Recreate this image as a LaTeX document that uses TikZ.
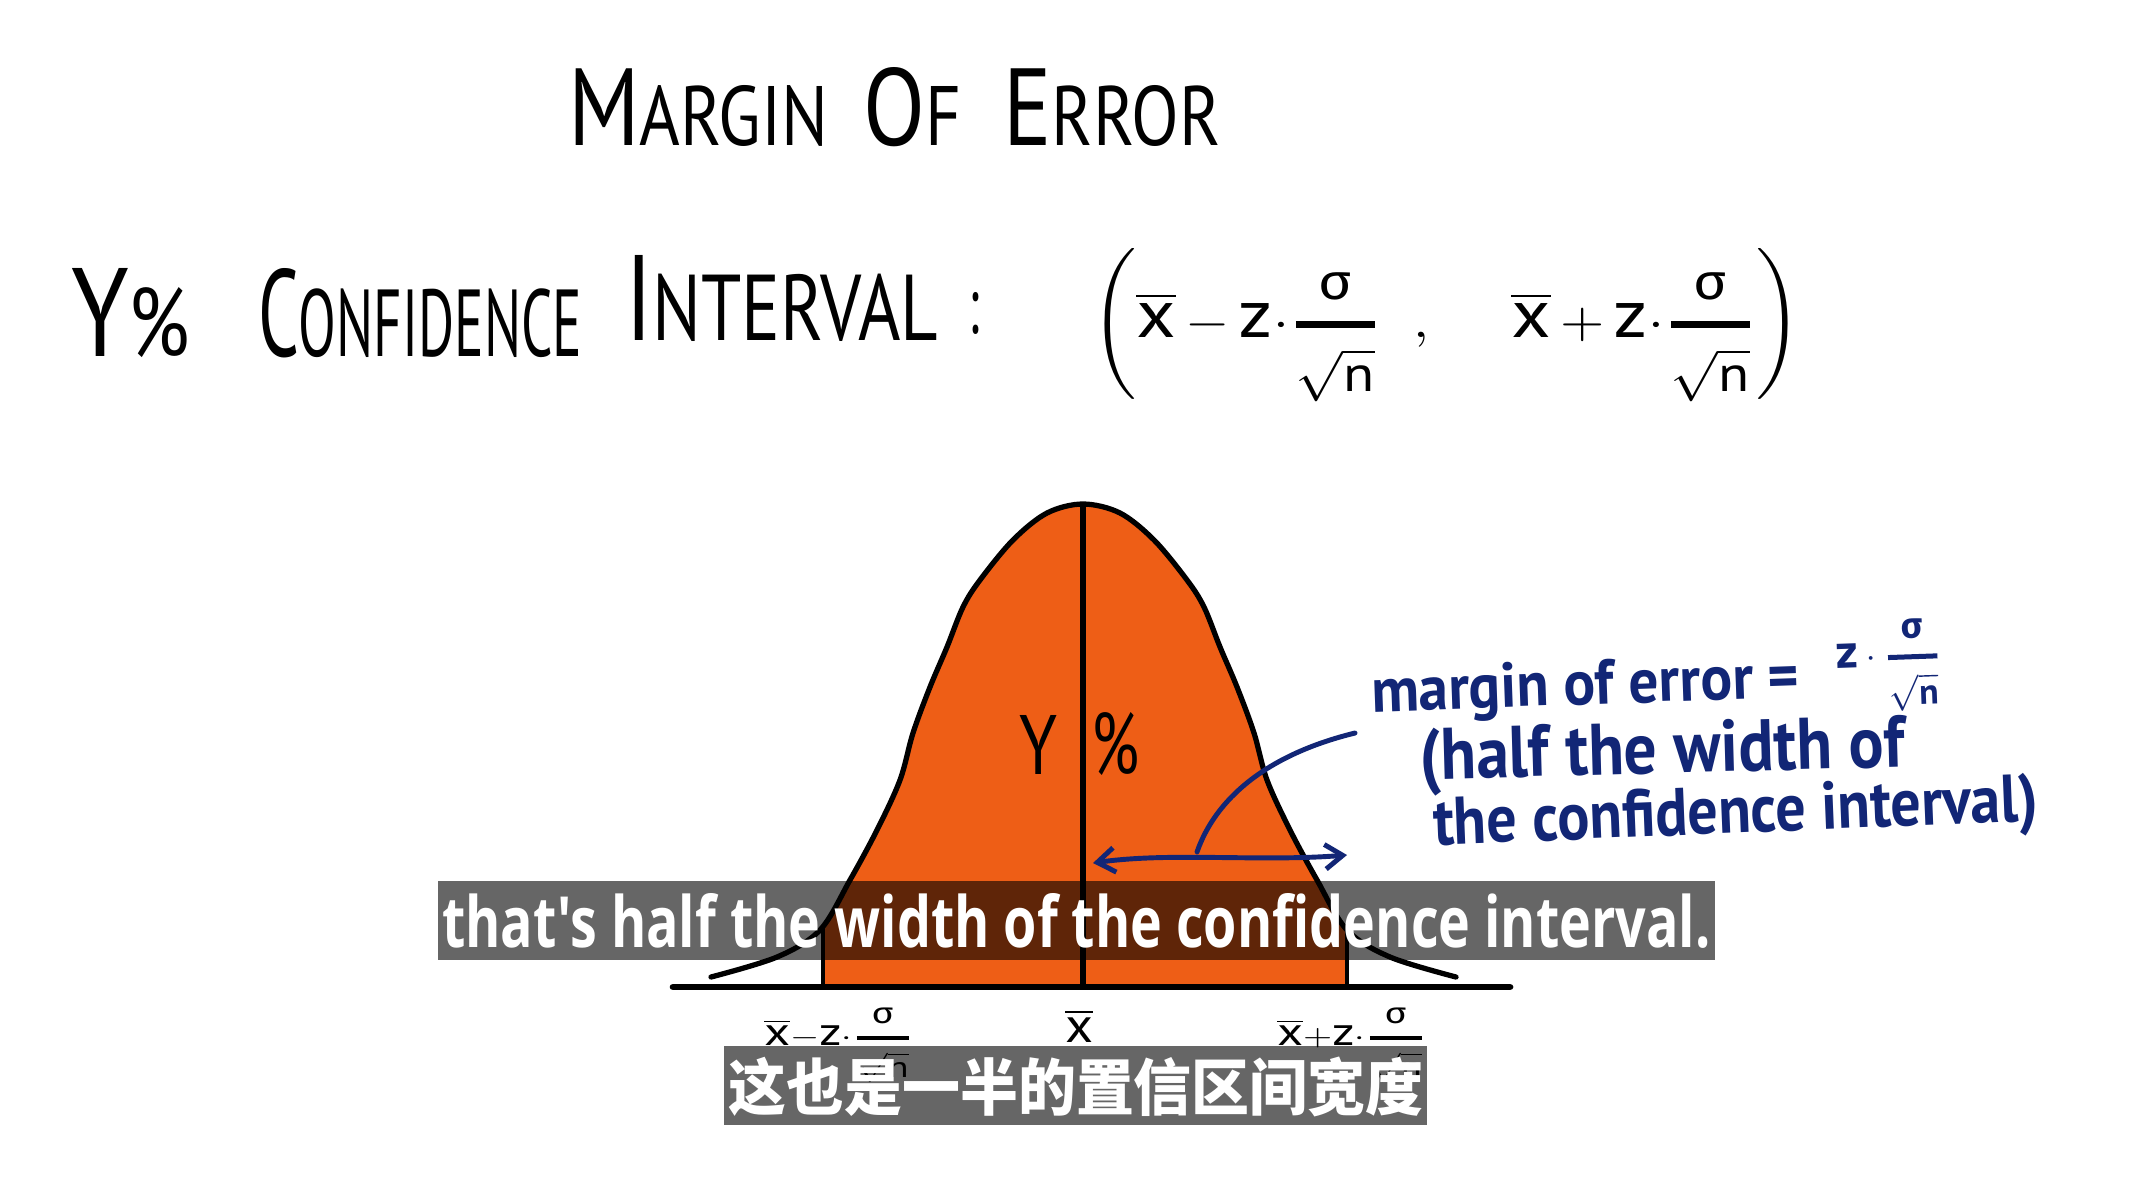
\documentclass[tikz,border=0pt]{standalone}
\usepackage{amsmath}
\usepackage{graphicx}
\usepackage{fontspec}
\newfontfamily\hand{PT Sans}
\newfontfamily\greekf{Fira Sans}
\newfontfamily\subfont{Open Sans}
\newfontfamily\cjk{Noto Sans CJK SC}
\usetikzlibrary{arrows.meta}

\definecolor{bellorange}{RGB}{238,94,22}
\definecolor{inkblue}{RGB}{18,38,118}
\newcommand{\fcap}[1]{\scalebox{1.3}{#1}}
\newcommand{\xbar}{\overline{\text{\scalebox{1.35}{x}}}}
\newcommand{\zz}{\text{\scalebox{1.35}{z}}}
\newcommand{\sdn}[1]{\genfrac{}{}{1.4pt}{#1}{\text{\greekf σ}}{\sqrt{\text{n}}}}

\begin{document}
\begin{tikzpicture}[
  x=0.01cm, y=-0.01cm,
  >={Straight Barb[length=5pt,width=7pt]},
  ink/.style={inner sep=0pt, outer sep=0pt, text=black, font=\hand},
  blueink/.style={inner sep=0pt, outer sep=0pt, text=inkblue, font=\hand\bfseries},
  bell/.style={draw=black, line width=1.5pt, line cap=round},
  subbox/.style={fill=black, fill opacity=0.6, draw=none, inner sep=0pt},
  subtext/.style={inner sep=0pt, outer sep=0pt, text=white},
  ptr/.style={draw=inkblue, line width=1.4pt, line cap=round},
]
\useasboundingbox (0,0) rectangle (2131,1202);
\fill[white] (0,0) rectangle (2131,1202);

% headings
\node[ink, anchor=base west] (title) at (568,145)
  {\resizebox{6.52cm}{0.78cm}{\fcap{M}ARGIN\hspace{0.5em}\fcap{O}F\hspace{0.6em}\fcap{E}RROR}};
\node[ink, anchor=base west] (ypct) at (71,356) {\resizebox{1.19cm}{0.88cm}{\fcap{Y}\%}};
\node[ink, anchor=base west] (conf) at (258,356) {\resizebox{3.24cm}{0.88cm}{\fcap{C}ONFIDENCE}};
\node[ink, anchor=base west] (intv) at (625,340) {\resizebox{3.13cm}{0.85cm}{\fcap{I}NTERVAL}};
\node[ink, anchor=base west] (colon) at (968,333) {\resizebox{0.11cm}{0.41cm}{:}};
\node[ink, anchor=base west] (ci) at (1091,337)
  {\resizebox{7.10cm}{0.88cm}{$\left(\xbar\,{-}\,\zz{\cdot}\sdn{0}\;\;,\quad\;\xbar\,{+}\,\zz{\cdot}\sdn{0}\right)$}};

% bell curve
\def\bellpts{(711,977) (777,957) (820,930) (850,880) (877,830) (900,780) (913,733)
  (930,687) (947,647) (963,607) (980,580) (1013,540) (1047,513) (1083,504)
  (1120,513) (1154,540) (1187,580) (1204,607) (1220,647) (1237,687) (1254,733)
  (1267,780) (1290,830) (1317,880) (1347,930) (1390,957) (1456,977)}
\begin{scope}
  \clip (823,450) rectangle (1347,987);
  \fill[bellorange] plot[smooth, tension=0.55] coordinates {\bellpts} -- (1456,987) -- (711,987) -- cycle;
\end{scope}
\draw[bell] plot[smooth, tension=0.55] coordinates {\bellpts};
\draw[bell, line cap=butt] (1083,504) -- (1083,987);
\draw[bell, line width=1pt, line cap=butt] (823,928) -- (823,987);
\draw[bell, line width=1pt, line cap=butt] (1347,930) -- (1347,987);
\draw[bell, line width=1.9pt] (673,987) -- (1510,987);

\node[ink] (ylab) at (1038,745) {\resizebox{0.38cm}{0.59cm}{Y}};
\node[ink] (pct) at (1115,744) {\resizebox{0.48cm}{0.62cm}{\%}};

% axis labels
\node[ink, anchor=north west] (lo) at (764,1008)
  {\resizebox*{1.49cm}{0.75cm}{$\xbar{-}\zz{\cdot}\sdn{0}$}};
\node[ink, anchor=base] (mean) at (1079,1042) {\resizebox{0.28cm}{0.32cm}{$\xbar$}};
\node[ink, anchor=north west] (hi) at (1277,1008)
  {\resizebox*{1.49cm}{0.75cm}{$\xbar{+}\zz{\cdot}\sdn{0}$}};

% margin of error note
\node[blueink, anchor=base west, rotate=2] (moe) at (1372,712)
  {\resizebox{4.28cm}{0.45cm}{margin of error =}};
\node[blueink, anchor=west, rotate=2] (moef) at (1836,668)
  {\resizebox*{1.06cm}{0.92cm}{$\zz\cdot\sdn{0}$}};
\node[blueink, anchor=base west, rotate=1.6] (half) at (1420,780)
  {\resizebox{4.85cm}{0.52cm}{(half the width of}};
\node[blueink, anchor=base west, rotate=2.3] (ofci) at (1434,845)
  {\resizebox{6.05cm}{0.48cm}{the confidence interval)}};

\coordinate (ptrA) at (1355,733);
\coordinate (ptrB) at (1197,852);
\coordinate (aL) at (1093,863);
\coordinate (aR) at (1347,855);
\draw[ptr] (ptrB) .. controls (1215,800) and (1265,755) .. (ptrA);
\draw[ptr, <->] (aL) .. controls (1170,852) and (1260,862) .. (aR);

% subtitles
\node[subbox, minimum width=12.77cm, minimum height=0.79cm] (subEN) at (1076.5,920.5) {};
\node[subtext, anchor=base west] (subENt) at (442,947)
  {\resizebox{12.68cm}{0.54cm}{\subfont\bfseries that's half the width of the confidence interval.}};
\node[subbox, minimum width=7.03cm, minimum height=0.79cm] (subCN) at (1075.5,1085.5) {};
\node[subtext] (subCNt) at (1076,1087)
  {\resizebox*{6.95cm}{0.60cm}{\cjk\bfseries 这也是一半的置信区间宽度}};

\end{tikzpicture}
\end{document}
